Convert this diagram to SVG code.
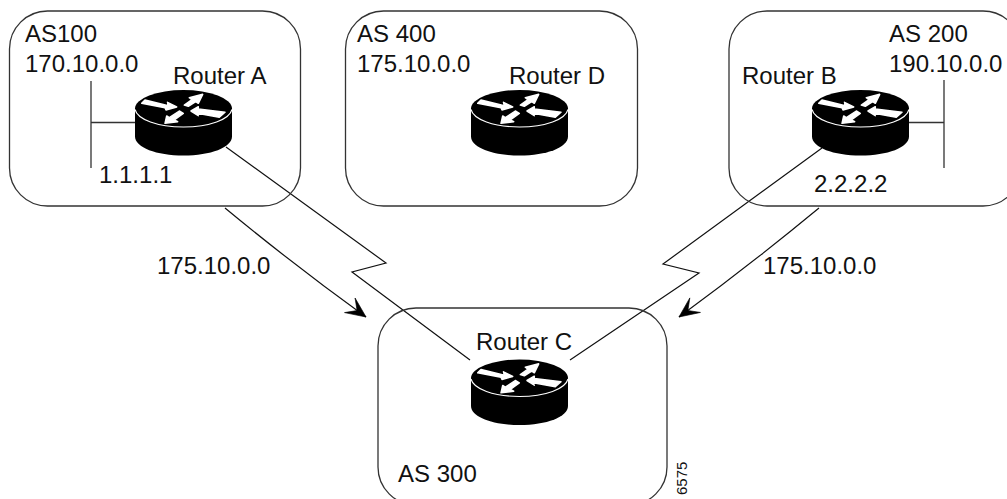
<svg xmlns="http://www.w3.org/2000/svg" width="1007" height="499" viewBox="0 0 1007 499">
<style>
text{font-family:"Liberation Sans",Arial,sans-serif;font-size:24px;fill:#111}
.box{fill:none;stroke:#333;stroke-width:1.3}
.ln{fill:none;stroke:#111;stroke-width:1.2}
.net{fill:none;stroke:#333;stroke-width:1.3}
.w{fill:#fff;stroke:#fff;stroke-width:1.5;stroke-linejoin:round}
</style>
<defs>
<marker id="ah" markerUnits="userSpaceOnUse" markerWidth="24" markerHeight="24" viewBox="0 0 24 24" refX="22" refY="12" orient="auto"><path d="M2 3L22 12L2 21L11 12Z" fill="#000" stroke="#000" stroke-width="0.6"/></marker>
<g id="router">
<path d="M-48.500 0V28C-48.500 39 -27 47 0 47C27 47 48.500 39 48.500 28V0Z" fill="#000"/>
<ellipse cx="0" cy="0" rx="48.500" ry="18.500" fill="#000"/>
<path d="M-48.500 1C-46 11 -26 18.500 0 18.500C26 18.500 46 11 48.500 1" fill="none" stroke="#fff" stroke-width="1.1"/>
<path class="w" d="M-41.800 -5.200L-38.500 -8.500L-15.200 -2.800L-16 -6.200L-6.800 -1.500L-17.500 1.500L-18.500 -0.800Z"/>
<path class="w" d="M19.200 -14.200L5.800 -10.800L8.500 -8.800L0.800 -3.500L4.800 -2.200L12.200 -6.800L14.800 -5.200Z"/>
<path class="w" d="M7.500 2.500L14.800 -1.800L14.800 0.500L41.500 3.800L35.800 8.800L12.500 4.500L14.800 7.200Z"/>
<path class="w" d="M-18.500 14.800L-16.800 7.500L-14.200 9.200L-4.200 2.500L-0.200 4.800L-9.200 11.500L-5.800 13.200Z"/>
</g>
</defs>
<g id="connectors">
<path class="ln" d="M226 147L386 263L352 272L470 360"/>
<path class="ln" d="M822 148L663 264L699 273L570 360"/>
<path class="ln" d="M225 208Q294 265 366 317" marker-end="url(#ah)"/>
<path class="ln" d="M819 208Q750 265 679 317" marker-end="url(#ah)"/>
<path class="net" d="M91 81V168M91 122.500H136"/>
<path class="net" d="M944 80V168M908 122.500H944"/>
</g>
<g id="as100"><rect class="box" x="9.500" y="11" width="291" height="195" rx="38"/><text x="25" y="42">AS100</text><text x="25" y="72">170.10.0.0</text><text x="173" y="84">Router A</text><text x="99" y="183">1.1.1.1</text></g>
<g id="as400"><rect class="box" x="345.500" y="11" width="292" height="195" rx="38"/><text x="357" y="42">AS 400</text><text x="357" y="72">175.10.0.0</text><text x="509" y="84">Router D</text></g>
<g id="as200"><rect class="box" x="729" y="11" width="292" height="195" rx="38"/><text x="889" y="42">AS 200</text><text x="889" y="72">190.10.0.0</text><text x="742" y="84">Router B</text><text x="814" y="192">2.2.2.2</text></g>
<g id="as300"><rect class="box" x="378" y="308" width="289" height="197" rx="38"/><text x="476" y="350">Router C</text><text x="398" y="482">AS 300</text></g>
<g id="routerA"><use href="#router" x="183.500" y="108.500"/></g>
<g id="routerD"><use href="#router" x="519.500" y="108.500"/></g>
<g id="routerB"><use href="#router" x="860.500" y="108.500"/></g>
<g id="routerC"><use href="#router" x="519.500" y="378"/></g>
<g id="labels"><text x="157" y="274">175.10.0.0</text><text x="763" y="274">175.10.0.0</text><text transform="translate(687 495) rotate(-90)" style="font-size:15px">6575</text></g>
</svg>
